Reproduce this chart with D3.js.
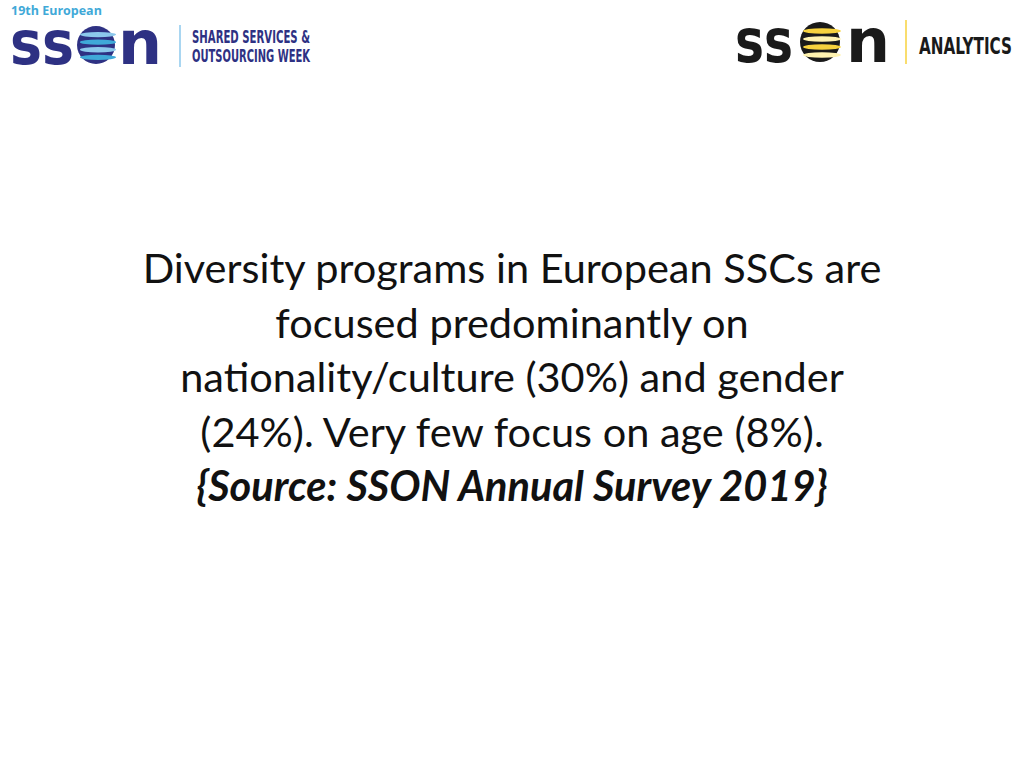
<!DOCTYPE html>
<html><head><meta charset="utf-8">
<script src="https://cdn.jsdelivr.net/npm/d3@7"></script>
<style>body{margin:0;background:#fff}</style>
</head><body><svg width="1024" height="768"></svg>
<script>
var svg = d3.select("svg");

var bodyLines = ["Diversity programs in European SSCs are",
  "focused predominantly on",
  "nationality/culture (30%) and gender",
  "(24%). Very few focus on age (8%)."];
var sourceLine = "{Source: SSON Annual Survey 2019}";

var y = d3.scaleLinear().domain([0, 4]).range([283, 501]);

svg.selectAll(".body").data(bodyLines).enter().append("text")
  .attr("x", 512).attr("y", function(d, i) { return y(i); })
  .attr("text-anchor", "middle").attr("font-family", "Lato, 'Open Sans', sans-serif")
  .attr("font-size", 41.5).attr("fill", "#111").text(function(d) { return d; });

svg.append("text").attr("x", 512).attr("y", y(4)).attr("text-anchor", "middle")
  .attr("font-family", "Lato, sans-serif").attr("font-size", 41.5)
  .attr("font-weight", "bold").attr("font-style", "italic").attr("fill", "#111").text(sourceLine);

// logos
function globe(g, cx, cy, r, c1, c2, c3) {
  g.append("circle").attr("cx", cx).attr("cy", cy).attr("r", r).attr("fill", c1);
  var bands = [-0.55, -0.15, 0.25, 0.65];
  bands.forEach(function(b, i) {
    g.append("ellipse").attr("cx", cx + 2).attr("cy", cy + b * r).attr("rx", r * 0.95).attr("ry", r * 0.14)
      .attr("fill", i % 2 ? c3 : c2);
  });
}

function logo(x, base, c, gc, gx, gy, gr, nx, w) {
  var g = svg.append("g");
  g.append("text").attr("x", x).attr("y", base).attr("font-family", "'DejaVu Sans', sans-serif")
    .attr("font-weight", "bold").attr("font-size", 60).attr("fill", c)
    .attr("textLength", w).attr("lengthAdjust", "spacingAndGlyphs").text("ss");
  globe(g, gx, gy, gr, gc[0], gc[1], gc[2]);
  g.append("text").attr("x", nx).attr("y", base).attr("font-family", "'DejaVu Sans', sans-serif")
    .attr("font-weight", "bold").attr("font-size", 60).attr("fill", c)
    .attr("textLength", 44).attr("lengthAdjust", "spacingAndGlyphs").text("n");
}

logo(10, 64, "#2e3183", ["#2e3183", "#8cc8ec", "#3fa9d8"], 96, 45, 19, 118, 64);
logo(735, 62, "#1a1a1a", ["#1a1a1a", "#f7d23e", "#fff3b0"], 820, 42, 20, 846, 58);

svg.append("text").attr("x", 11).attr("y", 15).attr("font-family", "'Open Sans', sans-serif")
  .attr("font-weight", "bold").attr("font-size", 12.5).attr("fill", "#3fa9d8").text("19th European");
svg.append("line").attr("x1", 180).attr("x2", 180).attr("y1", 25).attr("y2", 67).attr("stroke", "#8cc8ec").attr("stroke-width", 1.5);
svg.append("line").attr("x1", 906).attr("x2", 906).attr("y1", 20).attr("y2", 64).attr("stroke", "#f7d23e").attr("stroke-width", 1.5);

var leftLines = ["SHARED SERVICES &", "OUTSOURCING WEEK"];
svg.selectAll(".ll").data(leftLines).enter().append("text")
  .attr("x", 192).attr("y", function(d, i) { return 43 + i * 19; })
  .attr("font-family", "'Liberation Sans Narrow', 'DejaVu Sans', sans-serif").attr("font-weight", "bold")
  .attr("font-size", 17).attr("fill", "#2e3183")
  .attr("textLength", 118).attr("lengthAdjust", "spacingAndGlyphs").text(function(d) { return d; });
svg.append("text").attr("x", 919).attr("y", 54).attr("font-family", "'Liberation Sans Narrow', 'DejaVu Sans', sans-serif")
  .attr("font-weight", "bold").attr("font-size", 23).attr("fill", "#1a1a1a")
  .attr("textLength", 93).attr("lengthAdjust", "spacingAndGlyphs").text("ANALYTICS");
</script></body></html>
